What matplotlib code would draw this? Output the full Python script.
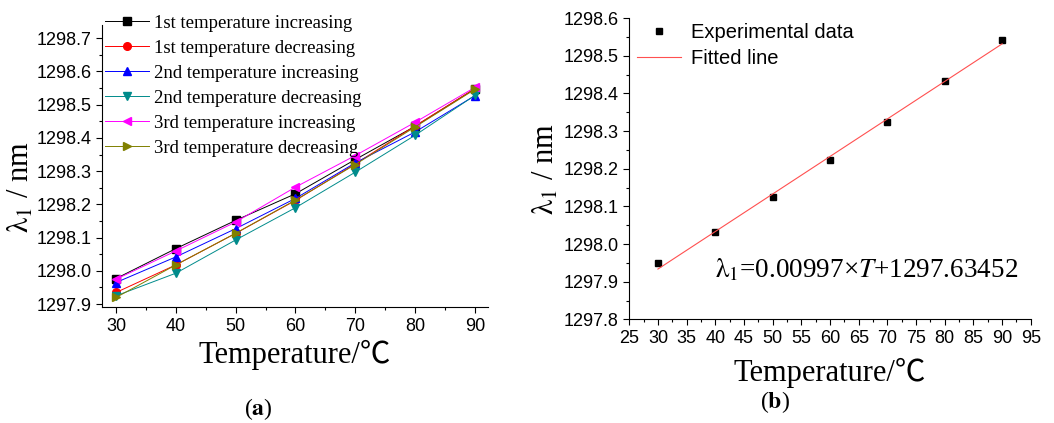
import numpy as np
import matplotlib
matplotlib.use('Agg')
import matplotlib.pyplot as plt
from matplotlib.ticker import MultipleLocator

plt.rcParams['font.family'] = ['Liberation Sans', 'DejaVu Sans']
plt.rcParams['mathtext.fontset'] = 'stix'

serif = ['Liberation Serif', 'Noto Sans CJK SC', 'DejaVu Sans']

# (a) six temperature runs
temps = [30, 40, 50, 60, 70, 80, 90]
run_labels = ['1st temperature increasing', '1st temperature decreasing',
              '2nd temperature increasing', '2nd temperature decreasing',
              '3rd temperature increasing', '3rd temperature decreasing']
inc_1 = [1297.977, 1298.067, 1298.152, 1298.232, 1298.335, 1298.435, 1298.548]
dec_1 = [1297.935, 1298.018, 1298.113, 1298.212, 1298.322, 1298.436, 1298.548]
inc_2 = [1297.965, 1298.042, 1298.127, 1298.218, 1298.325, 1298.418, 1298.527]
dec_2 = [1297.925, 1297.993, 1298.093, 1298.190, 1298.297, 1298.408, 1298.528]
inc_3 = [1297.975, 1298.060, 1298.147, 1298.252, 1298.347, 1298.447, 1298.552]
dec_3 = [1297.920, 1298.018, 1298.113, 1298.213, 1298.320, 1298.433, 1298.546]
runs = [inc_1, dec_1, inc_2, dec_2, inc_3, dec_3]
colors = ['black', 'red', 'blue', '#008b8b', 'magenta', '#808000']
markers = ['s', 'o', '^', 'v', '<', '>']

# (b) averaged data + linear fit
exp_t = [30, 40, 50, 60, 70, 80, 90]
exp_lam = [1297.950, 1298.033, 1298.125, 1298.222, 1298.325, 1298.432, 1298.542]
slope = 0.00997
intercept = 1297.63452

fig = plt.figure(figsize=(10.54, 4.23), dpi=100)

ylab = r'$\mathrm{λ}_\mathrm{1}$ / nm'

def style_axes(ax):
    ax.spines['top'].set_visible(False)
    ax.spines['right'].set_visible(False)
    ax.tick_params(which='both', direction='out', labelsize=13, width=0.8)
    ax.tick_params(which='major', length=4.5, pad=3)
    ax.tick_params(which='minor', length=2.5)

# ---- left panel
ax1 = fig.add_axes([0.0965, 0.274, 0.3665, 0.667])
for vals, lab, c, m in zip(runs, run_labels, colors, markers):
    ax1.plot(temps, vals, color=c, marker=m, markersize=5.5, lw=0.7, label=lab)
ax1.set_xlim(27.6, 92.2)
ax1.set_ylim(1297.891, 1298.74)
ax1.xaxis.set_major_locator(MultipleLocator(10))
ax1.xaxis.set_minor_locator(MultipleLocator(5))
ax1.yaxis.set_major_locator(MultipleLocator(0.1))
ax1.yaxis.set_minor_locator(MultipleLocator(0.05))
ax1.yaxis.set_major_formatter(plt.FormatStrFormatter('%.1f'))
style_axes(ax1)
ax1.set_xlabel('Temperature/℃', family=serif, fontsize=22, labelpad=4)
ax1.set_ylabel(ylab, family=serif, fontsize=22, labelpad=0, y=0.425)
ax1.legend(loc='upper left', bbox_to_anchor=(0.1, 0.966), bbox_transform=fig.transFigure,
           frameon=False, prop={'family': serif, 'size': 13.5}, handlelength=2.3,
           handletextpad=0.3, labelspacing=0.42, borderaxespad=0, borderpad=0)

# ---- right panel
ax2 = fig.add_axes([0.597, 0.245, 0.381, 0.712])
ax2.plot(exp_t, exp_lam, 's', color='black', markersize=4.5, label='Experimental data')
fit_t = np.array([exp_t[0], exp_t[-1]])
ax2.plot(fit_t, slope * fit_t + intercept, color='#ff5050', lw=0.8, label='Fitted line')
ax2.set_xlim(25, 95)
ax2.set_ylim(1297.8, 1298.6)
ax2.xaxis.set_major_locator(MultipleLocator(5))
ax2.xaxis.set_minor_locator(MultipleLocator(2.5))
ax2.yaxis.set_major_locator(MultipleLocator(0.1))
ax2.yaxis.set_minor_locator(MultipleLocator(0.05))
ax2.yaxis.set_major_formatter(plt.FormatStrFormatter('%.1f'))
style_axes(ax2)
ax2.set_xlabel('Temperature/℃', family=serif, fontsize=22, labelpad=8)
ax2.set_ylabel(ylab, family=serif, fontsize=22, labelpad=2)
ax2.legend(loc='upper left', bbox_to_anchor=(0.604, 0.945), bbox_transform=fig.transFigure,
           frameon=False, fontsize=14.5, handlelength=2.2, handletextpad=0.5,
           labelspacing=0.35, borderaxespad=0, borderpad=0)
ax2.text(0.213, 0.14, r'$\mathrm{λ}_\mathrm{1}$=0.00997×$\mathit{T}$+1297.63452', transform=ax2.transAxes,
         family=serif, fontsize=19.5)

fig.text(0.245, 0.02, r'($\mathbf{a}$)', family=serif, fontsize=17, ha='center')
fig.text(0.735, 0.035, r'($\mathbf{b}$)', family=serif, fontsize=17, ha='center')

fig.savefig('out.png', dpi=100)
